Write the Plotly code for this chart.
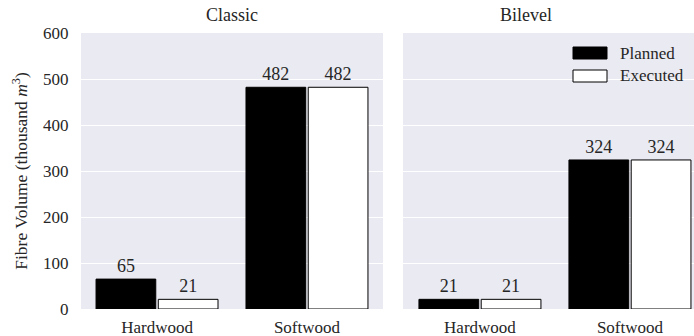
import plotly.graph_objects as go

categories = ["Hardwood", "Softwood"]
panels = ["Classic", "Bilevel"]
planned = {"Classic": [65, 482], "Bilevel": [21, 324]}
executed = {"Classic": [21, 482], "Bilevel": [21, 324]}
y_ticks = [0, 100, 200, 300, 400, 500, 600]
series = [("Planned", "black"), ("Executed", "white")]

FONT = "Liberation Serif"
TXT = "#262626"
BG = "#EAEAF2"
W, H = 694, 336

fig = go.Figure()

axes = [("x", "y"), ("x2", "y2")]
for i, name in enumerate(panels):
    xa, ya = axes[i]
    for label, values in (("Planned", planned[name]), ("Executed", executed[name])):
        fill = dict(series)[label]
        fig.add_trace(go.Bar(
            x=categories, y=values, name=label,
            marker=dict(color=fill, line=dict(color="black", width=1)),
            text=[str(v) for v in values], textposition="outside",
            textfont=dict(family=FONT, size=18, color=TXT),
            cliponaxis=False, showlegend=False, xaxis=xa, yaxis=ya,
        ))

ydom = [(H - 309) / H, (H - 33) / H]
common_y = dict(range=[0, 600], tickvals=y_ticks, showgrid=True, gridcolor="white",
                gridwidth=1.3, zeroline=False, showline=False, domain=ydom,
                automargin=False,
                ticks="outside", ticklen=8, tickcolor="white",
                tickfont=dict(family=FONT, size=17, color=TXT))
common_x = dict(showgrid=False, zeroline=False, showline=False, automargin=False,
                ticks="outside", ticklen=3, tickcolor="white",
                tickfont=dict(family=FONT, size=17, color=TXT))

# hand-drawn legend with wide swatches, placed inside the right panel
shapes = []
legend_notes = []
for k, (label, fill) in enumerate(series):
    top = 47 + k * 23
    shapes.append(dict(type="rect", xref="paper", yref="paper",
                       x0=573 / W, x1=607 / W, y0=(H - top - 12) / H, y1=(H - top) / H,
                       fillcolor=fill, line=dict(color="black", width=1)))
    legend_notes.append(dict(text=label, x=618 / W, y=(H - top - 6) / H,
                             xref="paper", yref="paper", xanchor="left", yanchor="middle",
                             showarrow=False, font=dict(family=FONT, size=17, color=TXT)))

fig.update_layout(
    width=W, height=H,
    margin=dict(l=0, r=0, t=0, b=0),
    paper_bgcolor="white", plot_bgcolor=BG,
    barmode="group", bargap=0.17, bargroupgap=0.04,
    showlegend=False,
    xaxis=dict(domain=[81 / W, 383 / W], range=[-0.507, 1.507], **common_x),
    xaxis2=dict(domain=[403 / W, 1.0], range=[-0.513, 1.427], anchor="y2", **common_x),
    yaxis=dict(title=dict(text="Fibre Volume (thousand <i>m</i><sup>3</sup>)",
                          font=dict(family=FONT, size=17.5, color=TXT), standoff=10),
               **common_y),
    yaxis2=dict(anchor="x2", showticklabels=False, **common_y),
    shapes=shapes,
    annotations=[
        dict(text="Classic", x=(81 + 383) / 2 / W, y=(H - 15) / H, xref="paper", yref="paper",
             yanchor="middle", showarrow=False, font=dict(family=FONT, size=18, color=TXT)),
        dict(text="Bilevel", x=(403 + 705) / 2 / W, y=(H - 15) / H, xref="paper", yref="paper",
             yanchor="middle", showarrow=False, font=dict(family=FONT, size=18, color=TXT)),
    ] + legend_notes,
)

fig.write_html("out.html")
